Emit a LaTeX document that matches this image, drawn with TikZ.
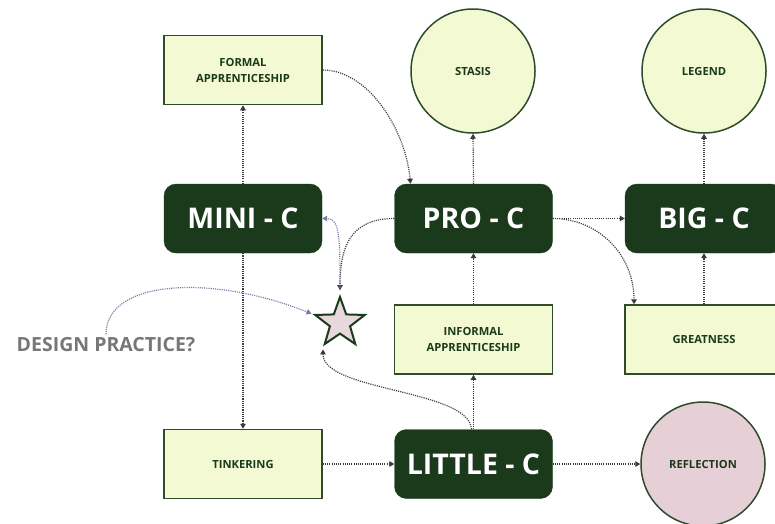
\documentclass[tikz,border=0pt]{standalone}
\usepackage{fontspec}
\setmainfont{Open Sans}
\usetikzlibrary{arrows.meta,shapes.geometric}

\definecolor{darkgreen}{HTML}{1B3A1C}
\definecolor{paleyellow}{HTML}{F3F9D3}
\definecolor{edgegreen}{HTML}{2F4B2C}
\definecolor{rosefill}{HTML}{E6CFD7}
\definecolor{starfill}{HTML}{E8D8DE}
\definecolor{linkgray}{HTML}{3A3A3A}
\definecolor{linkblue}{HTML}{767CA6}
\definecolor{notegray}{HTML}{777777}

\tikzset{
  levelbox/.style={rectangle, rounded corners=12pt, fill=darkgreen, draw=darkgreen,
    text=white, font=\bfseries\fontsize{28.5}{30}\selectfont,
    minimum width=158pt, minimum height=69pt, inner sep=0pt},
  notebox/.style={rectangle, fill=paleyellow, draw=edgegreen, line width=1.5pt,
    text=darkgreen, font=\bfseries\fontsize{11.2}{16}\selectfont, align=center,
    minimum width=158pt, minimum height=69pt, inner sep=0pt},
  bubble/.style={circle, fill=paleyellow, draw=edgegreen, line width=1.5pt,
    text=darkgreen, font=\bfseries\fontsize{11.2}{16}\selectfont,
    minimum size=124pt, inner sep=0pt},
  link/.style={draw=linkgray, line width=1.2pt, dash pattern=on 1.1pt off 1.1pt,
    -{Triangle[length=5pt,width=5.5pt]}},
  softlink/.style={link, draw=linkblue},
}

\begin{document}
\begin{tikzpicture}[x=1pt, y=-1pt]
  \useasboundingbox (0,0) rectangle (775,523);

  % circles
  \node[bubble] (stasis) at (473,71) {STASIS};
  \node[bubble] (legend) at (704,71) {LEGEND};
  \node[bubble, fill=rosefill] (reflection) at (703,464) {REFLECTION};

  % levels of creativity
  \node[levelbox] (mini)   at (243,218.5) {MINI - C};
  \node[levelbox] (pro)    at (473.5,218.5) {PRO - C};
  \node[levelbox] (big)    at (704,218.5) {BIG - C};
  \node[levelbox] (little) at (473.5,464) {LITTLE - C};

  % intermediate stages
  \node[notebox] (formal)   at (243,70) {FORMAL\\APPRENTICESHIP};
  \node[notebox] (informal) at (473.5,339.5) {INFORMAL\\APPRENTICESHIP};
  \node[notebox] (greatness) at (704,339.5) {GREATNESS};
  \node[notebox] (tinker)   at (243,464) {TINKERING};

  % star and annotation
  \node[star, star points=5, star point ratio=2.45, minimum size=52pt, inner sep=0pt,
        fill=starfill, draw=darkgreen, line width=2pt] (star) at (340,323) {};
  \node[font=\bfseries\fontsize{19.5}{22}\selectfont, text=notegray] (design) at (106,345) {DESIGN PRACTICE?};

  % straight connectors
  \draw[link] (mini.north) -- (formal.south);
  \draw[link] (mini.south) -- (tinker.north);
  \draw[link] (pro.north) -- (stasis.south);
  \draw[link] (pro.east) -- (big.west);
  \draw[link] (big.north) -- (legend.south);
  \draw[link] (greatness.north) -- (big.south);
  \draw[link] (informal.north) -- (pro.south);
  \draw[link] (little.north) -- (informal.south);
  \draw[link] (tinker.east) -- (little.west);
  \draw[link] (little.east) -- (reflection.west);

  % curved connectors
  \coordinate (protop) at ([xshift=-63pt]pro.north);
  \draw[link] (formal.east) .. controls +(45,0) and +(-5,-55) .. (protop);
  \coordinate (greattop) at ([xshift=-70pt]greatness.north);
  \draw[link] (pro.east) .. controls +(45,0) and +(0,-50) .. (greattop);
  \draw[link, shorten >=4pt] (pro.west) .. controls +(-42,0) and +(0,-50) .. (star.north);
  \draw[softlink, shorten <=4pt] (star.north) .. controls +(0,-55) and +(18,0) .. (mini.east);
  \draw[softlink, shorten >=1pt] (design.north) .. controls +(0,-55) and +(-100,-40) .. (star.outer point 2);
  \draw[link, shorten >=3pt] ([xshift=-2pt]little.north) .. controls +(-2,-40) and +(0,45) .. (star.outer point 3);
\end{tikzpicture}
\end{document}
